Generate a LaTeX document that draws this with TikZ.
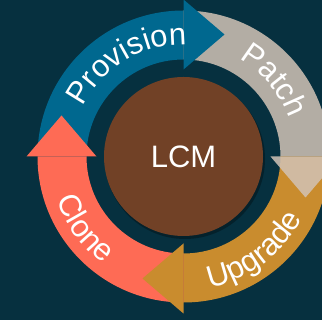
\documentclass[tikz,border=0pt]{standalone}
\usepackage{fontspec}
\setmainfont{Liberation Sans}
\usetikzlibrary{decorations.text}

\definecolor{bgteal}{HTML}{06303F}
\definecolor{provblue}{HTML}{00688F}
\definecolor{patchgrey}{RGB}{210,195,182}
\definecolor{upgold}{HTML}{C98C2E}
\definecolor{clonered}{HTML}{FE6B55}
\definecolor{lcmbrown}{HTML}{714126}
\newcommand{\lblfont}{\fontsize{31}{31}\selectfont}

\begin{document}
\begin{tikzpicture}[x=1pt,y=1pt,
    hub/.style={circle, fill=lcmbrown, minimum size=159pt, inner sep=0pt,
      text=white, font=\fontsize{31}{31}\selectfont},
    lbl/.style={decorate, decoration={text along path, text align=center,
      text color=white, text={|\lblfont|#1}}}]
    % Background
    \fill[bgteal] (0,0) rectangle (322,320);
    \useasboundingbox (0,0) rectangle (322,320);

    % Centre of the cycle
    \coordinate (O) at (183.5,163.5);

    % Ring pieces (heads go on top afterwards)
    \foreach \rot/\col/\op in {0/provblue/1, -90/patchgrey/0.85, -180/upgold/1, -270/clonered/1}
      \fill[\col, opacity=\op, shift={(O)}, rotate=\rot]
        (180:146pt) arc[start angle=180, end angle=90, radius=146pt]
        -- (90:97pt) arc[start angle=90, end angle=180, radius=97pt] -- cycle;

    % Arrow heads
    \foreach \rot/\col/\op in {0/provblue/1, -90/patchgrey/0.85, -180/upgold/1, -270/clonered/1}
      \fill[\col, opacity=\op, shift={(O)}, rotate=\rot]
        (0,87pt) -- (0,157pt) -- (41pt,122pt) -- cycle;

    % Labels along the ring
    \path[lbl=Provision, shift={(O)}] (156:112pt) arc[start angle=156, end angle=86, radius=112pt];
    \path[lbl=Patch, shift={(O)}] (70:112pt) arc[start angle=70, end angle=10, radius=112pt];
    \path[lbl=Upgrade, shift={(O)}] (-83:134pt) arc[start angle=-83, end angle=-23, radius=134pt];
    \path[lbl=Clone, shift={(O)}] (191:134pt) arc[start angle=191, end angle=241, radius=134pt];

    % Hub with its shadow
    \fill[black, opacity=.3] ([shift={(1.5pt,-2.5pt)}]O) circle[radius=80pt];
    \node[hub] (lcm) at (O) {LCM};
\end{tikzpicture}
\end{document}
